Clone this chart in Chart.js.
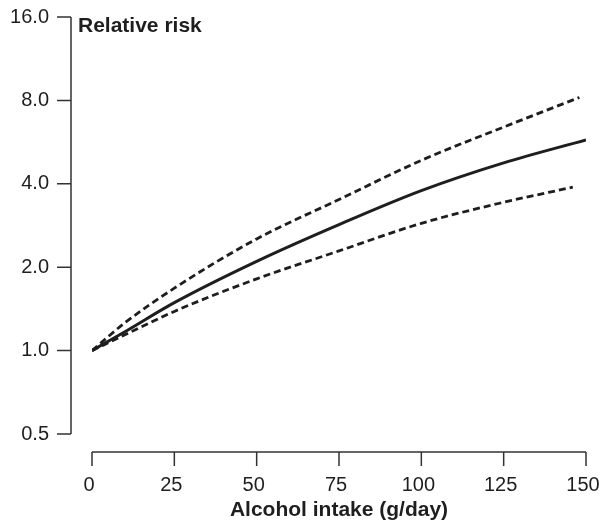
<!DOCTYPE html>
<html>
<head>
<meta charset="utf-8">
<title>Relative risk vs alcohol intake</title>
<script src="https://cdn.jsdelivr.net/npm/chart.js@4.4.0/dist/chart.umd.min.js"></script>
<style>
    body { margin: 0; background: #fff; }
    canvas { display: block; }
</style>
</head>
<body>
<canvas id="riskChart" width="599" height="526"></canvas>
<script>
// Data
const doseMain = [0, 10, 25, 50, 75, 100, 125, 150];
const rrMain = [1.0, 1.17, 1.49, 2.10, 2.85, 3.78, 4.76, 5.76];

const doseUpper = [0, 10, 25, 50, 75, 100, 125, 148];
const rrUpper = [1.0, 1.26, 1.68, 2.53, 3.51, 4.86, 6.41, 8.2];

const doseLower = [0, 10, 25, 50, 75, 100, 125, 146];
const rrLower = [1.0, 1.14, 1.385, 1.815, 2.29, 2.88, 3.43, 3.89];

const yTicks = [0.5, 1, 2, 4, 8, 16];
const xTicks = [0, 25, 50, 75, 100, 125, 150];

const FONT = "'Liberation Sans', Arial, Helvetica, sans-serif";
const INK = '#1e1e1e';
const AXIS = '#333';

const toPoints = (xs, ys) => xs.map((x, i) => ({ x: x, y: ys[i] }));

// Axes are drawn detached from the plot area, so draw them by hand
const detachedAxes = {
    id: 'detachedAxes',
    afterDraw(chart) {
        const { ctx, chartArea, scales } = chart;
        const xs = scales.x, ys = scales.y;
        const yAxisX = chartArea.left - 21;
        const xAxisY = chartArea.bottom + 18;

        ctx.save();
        ctx.strokeStyle = AXIS;
        ctx.lineWidth = 1.5;

        // y axis
        ctx.beginPath();
        ctx.moveTo(yAxisX, ys.getPixelForValue(yTicks[yTicks.length - 1]));
        ctx.lineTo(yAxisX, ys.getPixelForValue(yTicks[0]));
        yTicks.forEach(v => {
            const py = ys.getPixelForValue(v);
            ctx.moveTo(yAxisX - 14, py);
            ctx.lineTo(yAxisX, py);
        });
        ctx.stroke();

        // x axis
        ctx.beginPath();
        ctx.moveTo(xs.getPixelForValue(xTicks[0]), xAxisY);
        ctx.lineTo(xs.getPixelForValue(xTicks[xTicks.length - 1]), xAxisY);
        xTicks.forEach(v => {
            const px = xs.getPixelForValue(v);
            ctx.moveTo(px, xAxisY);
            ctx.lineTo(px, xAxisY + 14);
        });
        ctx.stroke();

        // y axis caption sits at the top, horizontal
        ctx.fillStyle = INK;
        ctx.font = 'bold 21px ' + FONT;
        ctx.textAlign = 'left';
        ctx.textBaseline = 'alphabetic';
        ctx.fillText('Relative risk', yAxisX + 7, 31.5);
        ctx.restore();
    }
};

const ctx = document.getElementById('riskChart').getContext('2d');

new Chart(ctx, {
    type: 'line',
    data: {
        datasets: [
            {
                label: 'Relative risk',
                data: toPoints(doseMain, rrMain),
                borderColor: INK,
                borderWidth: 3,
                pointRadius: 0,
                cubicInterpolationMode: 'monotone'
            },
            {
                label: 'Upper 95% CI',
                data: toPoints(doseUpper, rrUpper),
                borderColor: INK,
                borderWidth: 2.8,
                borderDash: [7, 4],
                pointRadius: 0,
                cubicInterpolationMode: 'monotone'
            },
            {
                label: 'Lower 95% CI',
                data: toPoints(doseLower, rrLower),
                borderColor: INK,
                borderWidth: 2.8,
                borderDash: [7, 4],
                pointRadius: 0,
                cubicInterpolationMode: 'monotone'
            }
        ]
    },
    options: {
        responsive: false,
        devicePixelRatio: 1,
        animation: false,
        layout: {
            padding: { left: 9, right: 13, top: 17, bottom: 0 }
        },
        plugins: {
            legend: { display: false },
            tooltip: { enabled: false }
        },
        scales: {
            x: {
                type: 'linear',
                min: 0,
                max: 150,
                afterBuildTicks: s => { s.ticks = xTicks.map(v => ({ value: v })); },
                afterFit: s => { s.height = 92; s.paddingLeft = 0; s.paddingRight = 0; },
                grid: { display: false, drawTicks: false },
                border: { display: false },
                ticks: {
                    padding: 39,
                    labelOffset: -3,
                    maxRotation: 0,
                    color: INK,
                    font: { family: FONT, size: 20 }
                },
                title: {
                    display: true,
                    text: 'Alcohol intake (g/day)',
                    color: INK,
                    font: { family: FONT, size: 21, weight: 'bold' },
                    padding: { top: 0, bottom: 3 }
                }
            },
            y: {
                type: 'logarithmic',
                min: 0.5,
                max: 16,
                afterBuildTicks: s => { s.ticks = yTicks.map(v => ({ value: v })); },
                afterFit: s => { s.width = 83; s.paddingTop = 0; s.paddingBottom = 0; },
                grid: { display: false, drawTicks: false },
                border: { display: false },
                ticks: {
                    padding: 43,
                    color: INK,
                    font: { family: FONT, size: 20 },
                    callback: v => Number(v).toFixed(1)
                }
            }
        }
    },
    plugins: [detachedAxes]
});
</script>
</body>
</html>
